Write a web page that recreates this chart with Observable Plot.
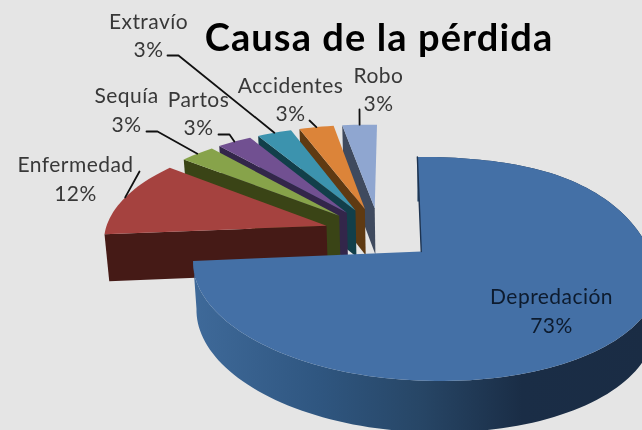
<!DOCTYPE html>
<html><head><meta charset="utf-8">
<style>html,body{margin:0;padding:0;background:#e5e5e5;overflow:hidden}svg{display:block}
.lbl text{letter-spacing:.45px}.ttl text{letter-spacing:1.1px}</style>
<script src="https://cdn.jsdelivr.net/npm/d3@7"></script>
<script src="https://cdn.jsdelivr.net/npm/@observablehq/plot@0.6"></script>
</head><body>
<script>
// Data, clockwise from the top of the pie
const categories = ["Depredación","Enfermedad","Sequía","Partos","Extravío","Accidentes","Robo"];
const percents   = [73,12,3,3,3,3,3];
const topColors  = ["#4470a6","#a5423f","#87a34a","#715091","#3c93ae","#dc8439","#8fa6d0"];
const sideColors = ["url(#rimBlue)","#451a16","#3a4416","#33264a","#123f4a","#5f3a12","#3f4a5e"];
const title = "Causa de la pérdida";

// Label layout (chart pixels)
const labelX  = [551,75,126,198,148,290,378];
const labelY1 = [303,171,102,106,28,92,82];
const labelY2 = [332,200,131,134,56,120,110];
const labelInk = ["#0d1b2e","#383838","#383838","#383838","#383838","#383838","#383838"];
const leaderPts = [null,[[139,171]],[[146,131],[157,131]],[[218,134],[229,134]],[[167,55],[178,55]],[[309,120]],[[359,109]]];

// View of the 3D pie
const explode = 0.25;
function view(u, v) {
  const w = 1 + 0.153 * v;
  let x = (220.3 * u + 60 * v + 378.7) / w;
  let y = (233.5 - 67.65 * v) / w;
  y += (x - 420) * (x > 420 ? 0.03 : 0.02);
  if (u > 0 && v > 0) y -= 18 * u * u * v;
  if (x > 420) x = 420 + (x - 420) * 1.03;
  return {x, y};
}
const drop = p => ({x: 420 + (p.x - 420) * 0.985, y: p.y + 40 + 0.03 * p.y});

const total = d3.sum(percents);
let acc = 0;
const slices = percents.map((p, i) => {
  const a0 = acc / total * 2 * Math.PI; acc += p;
  const a1 = acc / total * 2 * Math.PI;
  const mid = (a0 + a1) / 2;
  const cu = explode * Math.sin(mid), cv = explode * Math.cos(mid);
  const steps = Math.max(4, Math.ceil(p * 2));
  const rim = d3.range(steps + 1).map(k => {
    const a = a0 + (a1 - a0) * k / steps;
    return view(cu + Math.sin(a), cv + Math.cos(a));
  });
  const apex = view(cu, cv);
  const rimMid = view(cu + Math.sin(mid), cv + Math.cos(mid));
  return {i, rim, apex, rimMid, name: categories[i], pct: p};
});

const marks = [];
marks.push(() => {
  const defs = d3.create("svg:defs");
  const g = defs.append("linearGradient").attr("id","rimBlue")
    .attr("gradientUnits","userSpaceOnUse").attr("x1",190).attr("x2",650).attr("y1",0).attr("y2",0);
  [[0,"#3f6a9a"],[0.28,"#2f5680"],[0.5,"#274666"],[0.72,"#1a2d46"],[1,"#1a2c44"]]
    .forEach(([o,c]) => g.append("stop").attr("offset",o).attr("stop-color",c));
  return defs.node();
});

const poly = (pts, fill) => Plot.line(pts, {x:"x", y:"y", fill, stroke:"none"});

// back to front
[6,5,4,3,2,1,0].forEach(i => {
  const s = slices[i];
  const start = s.rim[0];
  if (i === 0) {
    marks.push(poly([...s.rim, ...s.rim.map(drop).reverse()], sideColors[0]));
  } else {
    marks.push(poly([start, s.apex, drop(s.apex), drop(start)], sideColors[i]));
  }
  marks.push(poly([s.apex, ...s.rim], topColors[i]));
  if (i === 0) marks.push(Plot.line([s.rim[0], s.apex], {x:"x", y:"y", stroke:"#1d3350", strokeWidth:1.4}));
});

// leaders
slices.forEach(s => {
  if (!leaderPts[s.i]) return;
  const pts = [...leaderPts[s.i].map(([x,y]) => ({x,y})), s.rimMid];
  marks.push(Plot.line(pts, {x:"x", y:"y", stroke:"#111", strokeWidth:1.8}));
});

// labels
const labelRows = categories.flatMap((c,i) => [
  {t:c, x:labelX[i], y:labelY1[i], ink:labelInk[i]},
  {t:percents[i]+"%", x:labelX[i], y:labelY2[i], ink:labelInk[i]}
]);
marks.push(Plot.text(labelRows, {x:"x", y:"y", text:"t", fill:d=>d.ink, fontSize:21, lineAnchor:"bottom", textAnchor:"middle", fontFamily:"Lato", className:"lbl"}));
marks.push(Plot.text([title], {x:[378.5], y:[50], text:d=>d, fill:"#000", fontSize:38, fontWeight:700, lineAnchor:"bottom", fontFamily:"Lato", className:"ttl"}));

const chart = Plot.plot({
  width:642, height:430, margin:0,
  x:{domain:[0,642], range:[0,642], axis:null},
  y:{domain:[0,430], range:[0,430], axis:null},
  color:{type:"identity"},
  style:{background:"#e5e5e5", filter:"blur(0.55px)"},
  marks
});
document.body.appendChild(chart);
</script>
</body></html>
